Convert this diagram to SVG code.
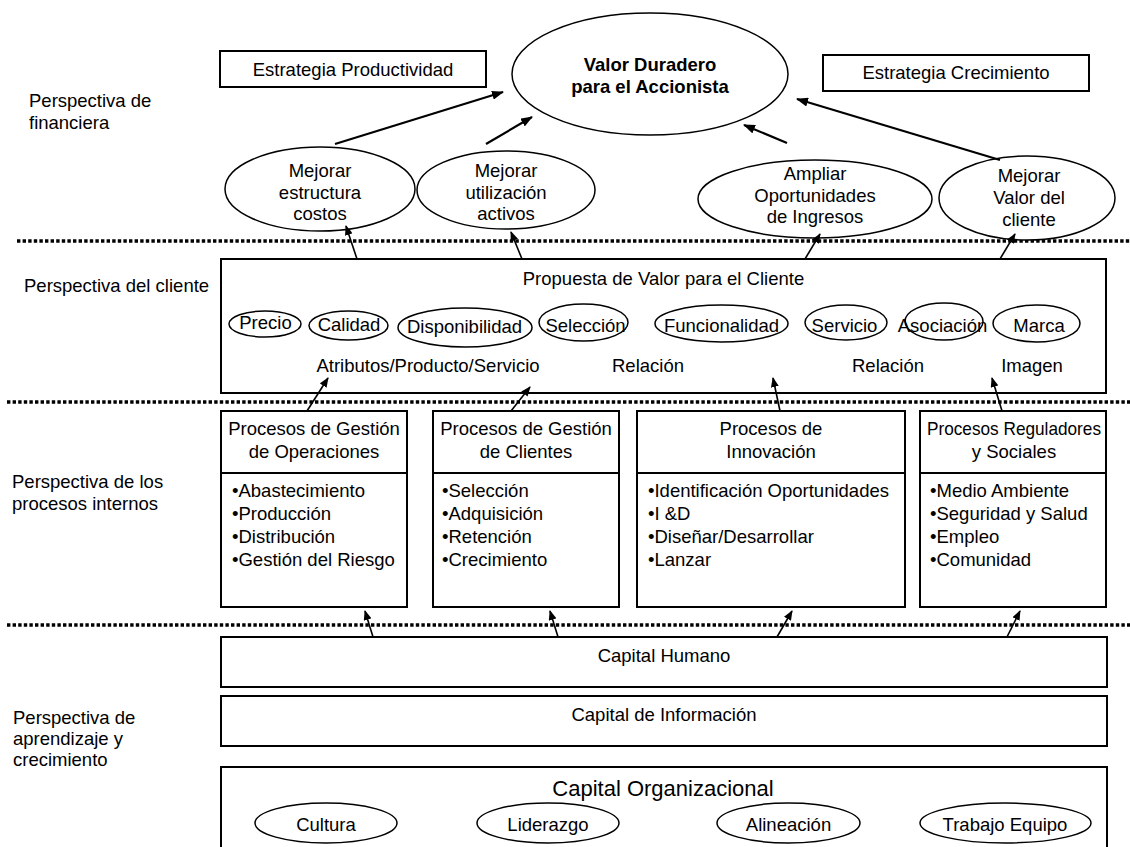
<svg xmlns="http://www.w3.org/2000/svg" width="1130" height="847" viewBox="0 0 1130 847">
  <defs>
    <marker id="ah" viewBox="0 0 12 9" refX="11" refY="4.5" markerWidth="12" markerHeight="9" markerUnits="userSpaceOnUse" orient="auto">
      <path d="M0,0 L12,4.5 L0,9 z" fill="#000"/>
    </marker>
    <marker id="ahs" viewBox="0 0 10 8" refX="9" refY="4" markerWidth="10" markerHeight="8" markerUnits="userSpaceOnUse" orient="auto">
      <path d="M0,0 L10,4 L0,8 z" fill="#000"/>
    </marker>
  </defs>
  <style>
    text { font-family: "Liberation Sans", Arial, Helvetica, sans-serif; font-size: 18.5px; fill: #000; }
    .c { text-anchor: middle; }
    .b { font-weight: bold; }
    .big { font-size: 22px; }
    .box { fill: #fff; stroke: #000; stroke-width: 2; }
    .ell { fill: #fff; stroke: #000; stroke-width: 1.5; }
    .sep { stroke: #000; stroke-width: 3.4; stroke-dasharray: 3.4 2.2; fill: none; }
    .arr { stroke: #000; stroke-width: 2.2; fill: none; marker-end: url(#ah); }
    .arr2 { stroke: #000; stroke-width: 1.6; fill: none; marker-end: url(#ahs); }
  </style>
  <rect width="1130" height="847" fill="#fff"/>

  <!-- perspective labels -->
  <g id="labels">
    <text x="29" y="107">Perspectiva de</text>
    <text x="29" y="129">financiera</text>
    <text x="24" y="292">Perspectiva del cliente</text>
    <text x="12" y="488">Perspectiva de los</text>
    <text x="12" y="510">procesos internos</text>
    <text x="13" y="724">Perspectiva de</text>
    <text x="13" y="745">aprendizaje y</text>
    <text x="13" y="766">crecimiento</text>
  </g>

  <!-- dotted separators between perspectives -->
  <g id="separators">
    <line class="sep" x1="17" y1="241" x2="1130" y2="241"/>
    <line class="sep" x1="7" y1="402" x2="1130" y2="402"/>
    <line class="sep" x1="7" y1="625" x2="1130" y2="625"/>
  </g>

  <!-- financial perspective -->
  <g id="estrategia-productividad">
    <rect class="box" x="220" y="51" width="266" height="36"/>
    <text class="c" x="353" y="76">Estrategia Productividad</text>
  </g>
  <g id="estrategia-crecimiento">
    <rect class="box" x="823" y="55" width="266" height="36"/>
    <text class="c" x="956" y="79">Estrategia Crecimiento</text>
  </g>
  <g id="valor-duradero">
    <ellipse class="ell" cx="650" cy="74" rx="138" ry="61"/>
    <text class="c b" x="650" y="71">Valor Duradero</text>
    <text class="c b" x="650" y="93">para el Accionista</text>
  </g>
  <g id="mejorar-costos">
    <ellipse class="ell" cx="320" cy="189" rx="95" ry="42"/>
    <text class="c" x="320" y="177">Mejorar</text>
    <text class="c" x="320" y="198.5">estructura</text>
    <text class="c" x="320" y="220">costos</text>
  </g>
  <g id="mejorar-activos">
    <ellipse class="ell" cx="506" cy="190" rx="89" ry="39"/>
    <text class="c" x="506" y="177">Mejorar</text>
    <text class="c" x="506" y="198.5">utilización</text>
    <text class="c" x="506" y="220">activos</text>
  </g>
  <g id="ampliar-ingresos">
    <ellipse class="ell" cx="815" cy="199" rx="117" ry="39"/>
    <text class="c" x="815" y="180">Ampliar</text>
    <text class="c" x="815" y="202">Oportunidades</text>
    <text class="c" x="815" y="223">de Ingresos</text>
  </g>
  <g id="mejorar-valor-cliente">
    <ellipse class="ell" cx="1027" cy="198" rx="88" ry="42"/>
    <text class="c" x="1029" y="182">Mejorar</text>
    <text class="c" x="1029" y="204">Valor del</text>
    <text class="c" x="1029" y="226">cliente</text>
  </g>

  <!-- customer perspective -->
  <g id="propuesta-valor">
    <rect class="box" x="221" y="259" width="885" height="134"/>
    <text class="c" x="663.5" y="285">Propuesta de Valor para el Cliente</text>
    <ellipse class="ell" cx="265" cy="324" rx="36" ry="13"/>
    <text class="c" x="265.5" y="329">Precio</text>
    <ellipse class="ell" cx="348.5" cy="325.5" rx="39.5" ry="14.5"/>
    <text class="c" x="349" y="331">Calidad</text>
    <ellipse class="ell" cx="465" cy="327.5" rx="67" ry="19.5"/>
    <text class="c" x="464.5" y="333">Disponibilidad</text>
    <ellipse class="ell" cx="583.5" cy="322.5" rx="44.5" ry="18.5"/>
    <text class="c" x="585.5" y="332">Selección</text>
    <ellipse class="ell" cx="721.5" cy="323.5" rx="66.5" ry="18.5"/>
    <text class="c" x="721.5" y="332">Funcionalidad</text>
    <ellipse class="ell" cx="846" cy="322.5" rx="41" ry="17.5"/>
    <text class="c" x="844.5" y="332">Servicio</text>
    <ellipse class="ell" cx="944" cy="321.5" rx="39" ry="18.5"/>
    <text class="c" x="942.5" y="332">Asociación</text>
    <ellipse class="ell" cx="1036.5" cy="323.5" rx="43.5" ry="18.5"/>
    <text class="c" x="1039" y="332">Marca</text>
    <text class="c" x="428" y="372">Atributos/Producto/Servicio</text>
    <text class="c" x="648" y="372">Relación</text>
    <text class="c" x="888" y="372">Relación</text>
    <text class="c" x="1032" y="372">Imagen</text>
  </g>

  <!-- internal process perspective -->
  <g id="procesos-operaciones">
    <rect class="box" x="221" y="411" width="186" height="196"/>
    <line class="box" x1="221" y1="473" x2="407" y2="473"/>
    <text class="c" x="314" y="435">Procesos de Gestión</text>
    <text class="c" x="314" y="458">de Operaciones</text>
    <text x="232" y="497">•Abastecimiento</text>
    <text x="232" y="520">•Producción</text>
    <text x="232" y="543">•Distribución</text>
    <text x="232" y="565.5">•Gestión del Riesgo</text>
  </g>
  <g id="procesos-clientes">
    <rect class="box" x="433" y="411" width="186" height="196"/>
    <line class="box" x1="433" y1="473" x2="619" y2="473"/>
    <text class="c" x="526" y="435">Procesos de Gestión</text>
    <text class="c" x="526" y="458">de Clientes</text>
    <text x="442" y="497">•Selección</text>
    <text x="442" y="520">•Adquisición</text>
    <text x="442" y="543">•Retención</text>
    <text x="442" y="565.5">•Crecimiento</text>
  </g>
  <g id="procesos-innovacion">
    <rect class="box" x="637" y="411" width="268" height="196"/>
    <line class="box" x1="637" y1="473" x2="905" y2="473"/>
    <text class="c" x="771" y="435">Procesos de</text>
    <text class="c" x="771" y="458">Innovación</text>
    <text x="648" y="497">•Identificación Oportunidades</text>
    <text x="648" y="520">•I &amp;D</text>
    <text x="648" y="543">•Diseñar/Desarrollar</text>
    <text x="648" y="565.5">•Lanzar</text>
  </g>
  <g id="procesos-reguladores">
    <rect class="box" x="920" y="411" width="186" height="196"/>
    <line class="box" x1="920" y1="473" x2="1106" y2="473"/>
    <text x="927" y="435" textLength="174" lengthAdjust="spacingAndGlyphs">Procesos Reguladores</text>
    <text class="c" x="1014" y="458">y Sociales</text>
    <text x="930" y="497">•Medio Ambiente</text>
    <text x="930" y="520">•Seguridad y Salud</text>
    <text x="930" y="543">•Empleo</text>
    <text x="930" y="565.5">•Comunidad</text>
  </g>

  <!-- learning and growth perspective -->
  <g id="capital-humano">
    <rect class="box" x="221" y="637" width="886" height="50"/>
    <text class="c" x="664" y="662">Capital Humano</text>
  </g>
  <g id="capital-informacion">
    <rect class="box" x="221" y="696" width="886" height="50"/>
    <text class="c" x="664" y="721">Capital de Información</text>
  </g>
  <g id="capital-organizacional">
    <rect class="box" x="221" y="767" width="886" height="100"/>
    <text class="c big" x="663" y="795.5">Capital Organizacional</text>
    <ellipse class="ell" cx="326" cy="823" rx="71" ry="20"/>
    <text class="c" x="326" y="831">Cultura</text>
    <ellipse class="ell" cx="548" cy="823" rx="71" ry="20"/>
    <text class="c" x="548" y="831">Liderazgo</text>
    <ellipse class="ell" cx="788.5" cy="823" rx="71.5" ry="20"/>
    <text class="c" x="788.5" y="831">Alineación</text>
    <ellipse class="ell" cx="1005.5" cy="823" rx="85.5" ry="20"/>
    <text class="c" x="1005" y="831">Trabajo Equipo</text>
  </g>

  <!-- cause-and-effect connectors -->
  <g id="connectors">
    <line class="arr" x1="335" y1="144" x2="503" y2="92"/>
    <line class="arr" x1="486" y1="144" x2="532" y2="117"/>
    <line class="arr" x1="787" y1="143" x2="744" y2="125"/>
    <line class="arr" x1="1000" y1="160" x2="797" y2="99"/>

    <line class="arr2" x1="357" y1="259" x2="346" y2="226"/>
    <line class="arr2" x1="522" y1="259" x2="511" y2="232"/>
    <line class="arr2" x1="805" y1="259" x2="820" y2="234"/>
    <line class="arr2" x1="1000" y1="259" x2="1015" y2="234"/>

    <line class="arr2" x1="307" y1="411" x2="328" y2="378"/>
    <line class="arr2" x1="511" y1="411" x2="530" y2="387"/>
    <line class="arr2" x1="780" y1="411" x2="773" y2="378"/>
    <line class="arr2" x1="1002" y1="411" x2="992" y2="378"/>

    <line class="arr2" x1="373" y1="637" x2="365" y2="611"/>
    <line class="arr2" x1="558" y1="637" x2="550" y2="611"/>
    <line class="arr2" x1="777" y1="637" x2="792" y2="611"/>
    <line class="arr2" x1="1007" y1="637" x2="1020" y2="611"/>
  </g>
</svg>
